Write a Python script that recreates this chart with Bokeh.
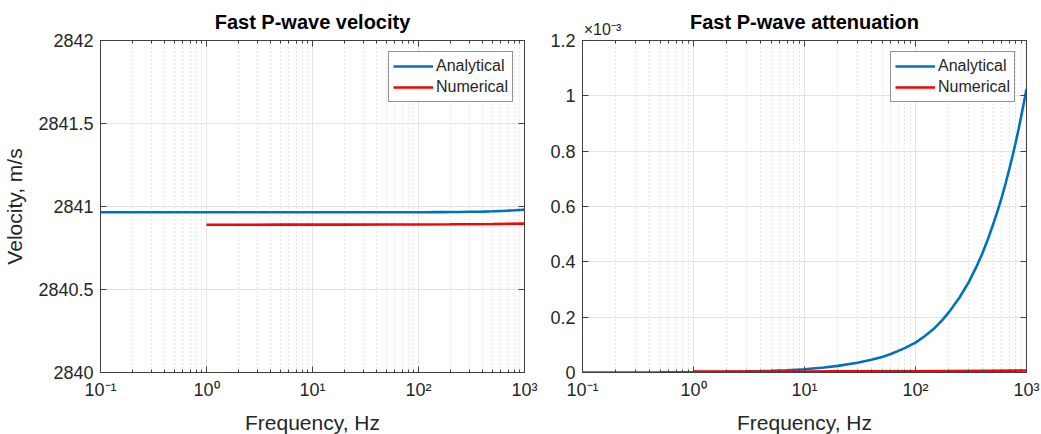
from bokeh.plotting import figure
from bokeh.layouts import row
from bokeh.models import FixedTicker, LogAxis, LinearAxis, CustomJSTickFormatter
from bokeh.themes import Theme
from bokeh.embed import file_html
from bokeh.resources import INLINE

# ---------------- data ----------------
freq_analytical = [0.1, 0.2, 0.5, 1, 2, 3, 5, 7, 10, 15, 20, 30, 40, 50, 60, 70,
                   80, 100, 120, 150, 175, 200, 250, 300, 350, 400, 450, 500,
                   550, 600, 650, 700, 750, 800, 850, 900, 950, 1000]
vel_analytical = [2840.965] * 17 + [2840.9655, 2840.9655, 2840.966, 2840.966,
                                    2840.9665, 2840.967, 2840.968, 2840.9685,
                                    2840.969, 2840.970, 2840.971, 2840.972,
                                    2840.973, 2840.974, 2840.975, 2840.976,
                                    2840.977, 2840.978, 2840.979, 2840.980,
                                    2840.981]
att_analytical = [0.0001, 0.0002, 0.0006, 0.0012, 0.0024, 0.0035, 0.006, 0.008,
                  0.012, 0.018, 0.024, 0.035, 0.046, 0.056, 0.067, 0.078, 0.088,
                  0.108, 0.13, 0.162, 0.19, 0.218, 0.272, 0.325, 0.378, 0.43,
                  0.483, 0.535, 0.585, 0.635, 0.685, 0.735, 0.784, 0.832, 0.881,
                  0.93, 0.978, 1.025]  # x 1e-3

freq_numerical = [1, 2, 5, 10, 20, 50, 100, 200, 500, 1000]
vel_numerical = [2840.890, 2840.890, 2840.891, 2840.891, 2840.891, 2840.892,
                 2840.892, 2840.893, 2840.895, 2840.897]
att_numerical = [0.003, 0.003, 0.003, 0.003, 0.004, 0.004, 0.004, 0.005,
                 0.006, 0.007]  # x 1e-3

x_ticks = [0.1, 1, 10, 100, 1000]
x_tick_labels = ["10\u207b\u00b9", "10\u2070", "10\u00b9", "10\u00b2", "10\u00b3"]
vel_ticks = [2840, 2840.5, 2841, 2841.5, 2842]
vel_tick_labels = ["2840", "2840.5", "2841", "2841.5", "2842"]
att_ticks = [0, 0.2, 0.4, 0.6, 0.8, 1.0, 1.2]
att_tick_labels = ["0", "0.2", "0.4", "0.6", "0.8", "1", "1.2"]
att_exponent_label = "\u00d710\u207b\u00b3"

titles = ["Fast P-wave velocity", "Fast P-wave attenuation"]
series_names = ["Analytical", "Numerical"]
series_colors = ["#0072BD", "#FF0000"]

FONT = "Liberation Sans"
TXT = "#262626"
AX = "#404040"
TICK_FS = "18px"

x_minor = [m * d for d in x_ticks[:-1] for m in range(2, 10)]

LOOKUP = """
for (let i = 0; i < tv.length; i++) {
  if (Math.abs(tv[i] - tick) <= 1e-9 * Math.max(1, Math.abs(tv[i]))) return tl[i];
}
return '';
"""


def lookup_formatter(tick_values, tick_labels):
    return CustomJSTickFormatter(args=dict(tv=list(tick_values), tl=list(tick_labels)),
                                 code=LOOKUP)


def style_axis(ax, labels=True):
    ax.axis_line_color = AX
    ax.major_tick_line_color = AX
    ax.minor_tick_line_color = AX
    ax.major_tick_in = 6
    ax.major_tick_out = 0
    ax.minor_tick_in = 3
    ax.minor_tick_out = 0
    ax.major_label_text_font = FONT
    ax.major_label_text_font_size = TICK_FS
    ax.major_label_text_color = TXT
    ax.major_label_standoff = 7
    ax.axis_label_text_font = FONT
    ax.axis_label_text_font_size = "21px"
    ax.axis_label_text_font_style = "normal"
    ax.axis_label_text_color = TXT
    if not labels:
        ax.formatter = CustomJSTickFormatter(code="return ''")
        ax.major_label_standoff = 0


def make_fig(title, y_vals_a, y_vals_n, y_range, y_ticks, y_labels, left, right, fw, ylabel):
    p = figure(x_axis_type="log", x_range=(0.1, 1000), y_range=y_range,
               frame_width=fw, frame_height=332,
               min_border_left=left, min_border_right=right,
               min_border_top=40, min_border_bottom=62,
               output_backend="svg", toolbar_location=None,
               title=title,
               background_fill_color="white", border_fill_color="white")
    if p.title is not None:
        p.title.align = "center"
        p.title.text_font = FONT
        p.title.text_font_size = "20px"
        p.title.text_font_style = "bold"
        p.title.text_color = "#000000"
        p.title.standoff = 15

    xt = FixedTicker(ticks=x_ticks, minor_ticks=x_minor)
    yt = FixedTicker(ticks=y_ticks)
    p.xaxis.ticker = xt
    p.yaxis.ticker = yt
    p.xgrid.ticker = xt
    p.ygrid.ticker = yt
    p.xaxis.axis_label = "Frequency, Hz"
    if ylabel:
        p.yaxis.axis_label = ylabel
    for ax in list(p.xaxis) + list(p.yaxis):
        style_axis(ax)
    p.xaxis.formatter = lookup_formatter(x_ticks, x_tick_labels)
    p.yaxis.formatter = lookup_formatter(y_ticks, y_labels)
    p.xaxis.axis_label_standoff = 8
    p.yaxis.axis_label_standoff = 9

    top = LogAxis(ticker=xt)
    style_axis(top, labels=False)
    p.add_layout(top, "above")
    rgt = LinearAxis(ticker=yt)
    style_axis(rgt, labels=False)
    p.add_layout(rgt, "right")

    p.xgrid.grid_line_color = "#e3e3e3"
    p.ygrid.grid_line_color = "#e3e3e3"
    p.xgrid.minor_grid_line_color = "#cfcfcf"
    p.xgrid.minor_grid_line_dash = "1 3"
    p.outline_line_color = AX

    p.line(freq_analytical, y_vals_a, line_color=series_colors[0], line_width=2.6,
           legend_label=series_names[0])
    p.line(freq_numerical, y_vals_n, line_color=series_colors[1], line_width=2.6,
           legend_label=series_names[1])

    lg = p.legend[0]
    lg.location = "top_right"
    lg.margin = 11
    lg.padding = 4
    lg.spacing = 1
    lg.glyph_width = 40
    lg.glyph_height = 20
    lg.label_height = 20
    lg.label_standoff = 3
    lg.label_text_font = FONT
    lg.label_text_font_size = "16px"
    lg.label_text_color = TXT
    lg.border_line_color = "#262626"
    lg.border_line_width = 1
    lg.background_fill_alpha = 1
    return p


p1 = make_fig(titles[0], vel_analytical, vel_numerical, (2840, 2842),
              vel_ticks, vel_tick_labels, 100, 16, 424, "Velocity, m/s")
p2 = make_fig(None, att_analytical, att_numerical, (0, 1.2),
              att_ticks, att_tick_labels, 42, 15, 444, None)

# exponent label and title of the right panel, carried by an extra top axis
exp_pos = x_ticks[0] * 10 ** (20 / 111)
exp_axis = LogAxis(ticker=FixedTicker(ticks=[exp_pos]))
exp_axis.formatter = lookup_formatter([exp_pos], [att_exponent_label])
exp_axis.axis_line_color = None
exp_axis.major_tick_line_color = None
exp_axis.minor_tick_line_color = None
exp_axis.major_tick_in = 0
exp_axis.major_tick_out = 0
exp_axis.minor_tick_in = 0
exp_axis.minor_tick_out = 0
exp_axis.major_label_standoff = 3
exp_axis.major_label_text_font = FONT
exp_axis.major_label_text_font_size = "16px"
exp_axis.major_label_text_color = TXT
exp_axis.axis_label = titles[1]
exp_axis.axis_label_text_font = FONT
exp_axis.axis_label_text_font_size = "20px"
exp_axis.axis_label_text_font_style = "bold"
exp_axis.axis_label_text_color = "#000000"
exp_axis.axis_label_standoff = -15
p2.add_layout(exp_axis, "above")

theme = Theme(json={"attrs": {"Axis": {"major_label_text_font": FONT,
                                       "major_label_text_font_size": TICK_FS}}})

layout = row(p1, p2)
open("out.html", "w").write(file_html(layout, INLINE, theme=theme))
